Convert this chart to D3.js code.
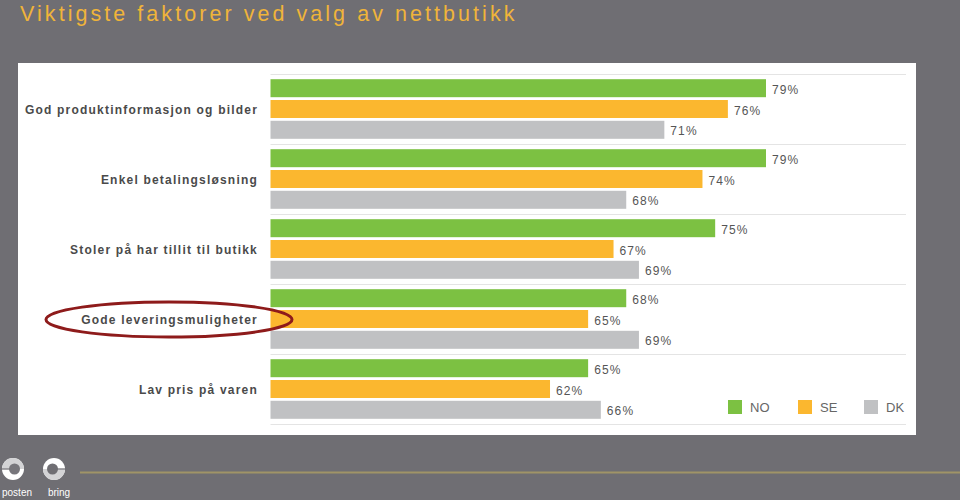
<!DOCTYPE html>
<html>
<head>
<meta charset="utf-8">
<script src="https://cdn.jsdelivr.net/npm/d3@7/dist/d3.min.js"></script>
<style>
  html, body { margin: 0; padding: 0; background: #6f6e73; }
  svg { display: block; font-family: "Liberation Sans", Arial, sans-serif; }
</style>
</head>
<body>
<svg id="chart" width="960" height="500"></svg>
<script>
const title = "Viktigste faktorer ved valg av nettbutikk";
const categories = [
  "God produktinformasjon og bilder",
  "Enkel betalingsløsning",
  "Stoler på har tillit til butikk",
  "Gode leveringsmuligheter",
  "Lav pris på varen"
];
const seriesNames = ["NO", "SE", "DK"];
const NO = [79, 79, 75, 68, 65];
const SE = [76, 74, 67, 65, 62];
const DK = [71, 68, 69, 69, 66];
const highlighted = "Gode leveringsmuligheter";

const colors = { NO: "#7cc142", SE: "#fbb72f", DK: "#c0c1c3" };
const values = { NO, SE, DK };

const svg = d3.select("#chart");

// background
svg.append("rect").attr("width", 960).attr("height", 500).attr("fill", "#6f6e73");

// title
svg.append("text")
  .attr("x", 20).attr("y", 21)
  .attr("fill", "#f0b43a")
  .style("font-size", "21.5px")
  .style("letter-spacing", "3.05px")
  .text(title);

// white panel
svg.append("rect")
  .attr("x", 18).attr("y", 63).attr("width", 898).attr("height", 372)
  .attr("fill", "#ffffff");

const x = d3.scaleLinear().domain([40, 80]).range([270.5, 778.7]);
const y = d3.scaleBand().domain(categories).range([74, 424]).paddingInner(0).paddingOuter(0);
const yInner = d3.scaleBand().domain(seriesNames).range([0, y.bandwidth()])
  .paddingInner(0.135).paddingOuter(0.25);

// separators
const seps = d3.range(categories.length + 1).map(i => i === categories.length ? y.range()[1] : y(categories[i]));
svg.append("g").selectAll("line").data(seps).join("line")
  .attr("x1", x(40)).attr("x2", 906)
  .attr("y1", d => d + 0.5).attr("y2", d => d + 0.5)
  .attr("stroke", "#e4e4e4").attr("stroke-width", 1);

// bars
const rows = [];
categories.forEach((c, i) => {
  seriesNames.forEach(s => rows.push({ cat: c, s, v: values[s][i] }));
});

const g = svg.append("g");
g.selectAll("rect").data(rows).join("rect")
  .attr("x", x(40))
  .attr("y", d => y(d.cat) + yInner(d.s))
  .attr("width", d => x(d.v) - x(40))
  .attr("height", yInner.bandwidth())
  .attr("fill", d => colors[d.s]);

g.selectAll("text.val").data(rows).join("text")
  .attr("class", "val")
  .attr("x", d => x(d.v) + 6)
  .attr("y", d => y(d.cat) + yInner(d.s) + yInner.bandwidth() / 2 + 5.5)
  .attr("fill", "#555555")
  .style("font-size", "12px")
  .style("letter-spacing", "1.1px")
  .text(d => d.v + "%");

// category labels
svg.append("g").selectAll("text").data(categories).join("text")
  .attr("x", 258)
  .attr("y", d => y(d) + y.bandwidth() / 2 + 5)
  .attr("text-anchor", "end")
  .attr("fill", "#4a4a4a")
  .style("font-size", "12px")
  .style("font-weight", "bold")
  .style("letter-spacing", "1.2px")
  .text(d => d);

// highlight ellipse
svg.append("ellipse")
  .attr("cx", 169).attr("cy", y(highlighted) + y.bandwidth() / 2 + 0.5)
  .attr("rx", 123).attr("ry", 17.5)
  .attr("fill", "none").attr("stroke", "#8e1b1b").attr("stroke-width", 3);

// legend
const legX = [728, 798, 864];
const lg = svg.append("g").selectAll("g").data(seriesNames).join("g")
  .attr("transform", (d, i) => `translate(${legX[i]},400)`);
lg.append("rect").attr("width", 14).attr("height", 14).attr("fill", d => colors[d]);
lg.append("text").attr("x", 22).attr("y", 12)
  .attr("fill", "#666666").style("font-size", "13px")
  .text(d => d);

// footer line
svg.append("line").attr("x1", 80).attr("x2", 960).attr("y1", 472.5).attr("y2", 472.5)
  .attr("stroke", "#a09467").attr("stroke-width", 2);

// logos
const logo1 = svg.append("g").attr("transform", "translate(13,469)");
logo1.append("circle").attr("r", 11).attr("fill", "#ffffff");
logo1.append("path").attr("d", "M-11,0 A11,11 0 0,1 11,0 Z").attr("fill", "#d3d3d5");
logo1.append("rect").attr("x", -11).attr("y", -0.75).attr("width", 8).attr("height", 1.5).attr("fill", "#8a898d");
logo1.append("circle").attr("cx", 1.5).attr("r", 5.5).attr("fill", "#77767b");
svg.append("text").attr("x", 17).attr("y", 496).attr("text-anchor", "middle")
  .attr("fill", "#ffffff").style("font-size", "10px").text("posten");

const logo2 = svg.append("g").attr("transform", "translate(54,469)");
logo2.append("circle").attr("r", 11).attr("fill", "#ffffff");
logo2.append("path").attr("d", "M11,0 A11,11 0 0,1 -11,0 Z").attr("fill", "#d3d3d5");
logo2.append("rect").attr("x", 3).attr("y", -0.75).attr("width", 8).attr("height", 1.5).attr("fill", "#8a898d");
logo2.append("circle").attr("cx", -1.5).attr("r", 5.5).attr("fill", "#6f6e73");
svg.append("text").attr("x", 59).attr("y", 496).attr("text-anchor", "middle")
  .attr("fill", "#ffffff").style("font-size", "10px").text("bring");
</script>
</body>
</html>
